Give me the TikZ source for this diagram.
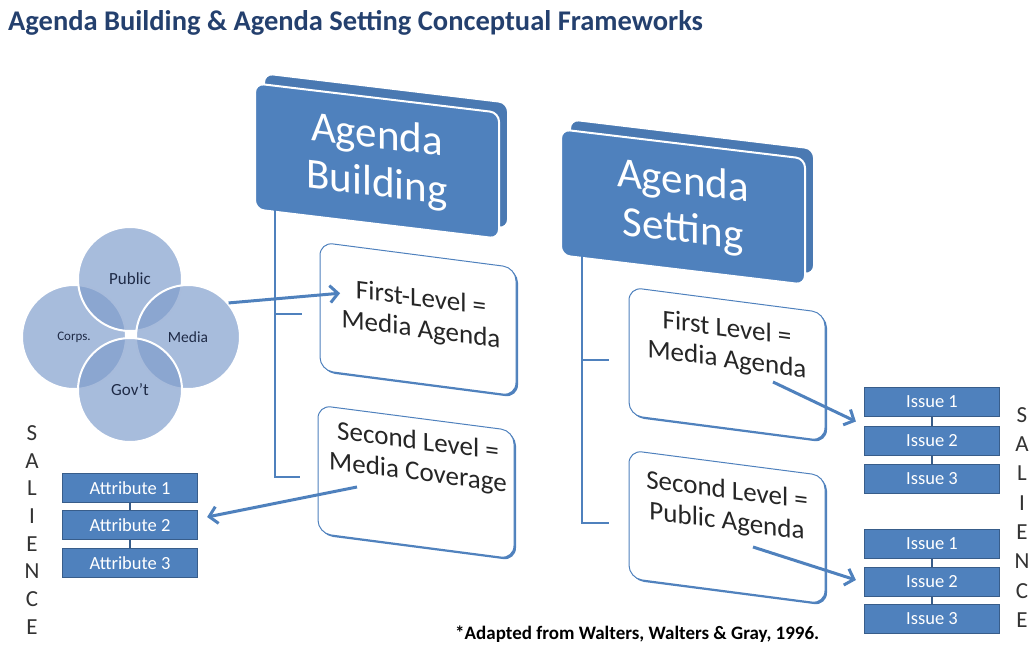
\documentclass[tikz,border=0pt]{standalone}
\usepackage{fontspec}
\setmainfont{Carlito}
\usetikzlibrary{calc,arrows.meta}

\definecolor{officeblue}{RGB}{79,129,189}
\definecolor{boxedge}{RGB}{56,93,138}
\definecolor{titleblue}{RGB}{36,64,110}
\definecolor{venncol}{RGB}{126,156,203}
\definecolor{venntext}{RGB}{30,42,70}

\begin{document}
\begin{tikzpicture}[
    x=1pt, y=-1pt,
    header/.style={draw=white, line width=2pt, fill=officeblue, rounded corners=9pt, minimum width=244pt, minimum height=126pt, yslant=-0.12, text=white, align=center, font=\fontsize{43}{48}\selectfont},
    headerdepth/.style={header, fill=officeblue!94!black},
    levelbox/.style={draw=officeblue, line width=1pt, fill=white, rounded corners=13pt, minimum width=196pt, minimum height=128pt, yslant=-0.13},
    levelshade/.style={levelbox, draw=none, fill=officeblue},
    leveltext/.style={yslant=-0.13, align=center, text=black!85, font=\fontsize{27}{31}\selectfont},
    itembox/.style={draw=boxedge, line width=1.2pt, fill=officeblue, minimum width=135pt, minimum height=29pt, inner sep=0pt, text=white, font=\fontsize{18.5}{18.5}\selectfont},
    venn/.style={circle, minimum size=104pt, inner sep=0pt, fill=venncol, fill opacity=0.68, text opacity=1, draw=white, line width=2pt, text=venntext, font=\fontsize{17}{17}\selectfont},
    bracket/.style={draw=officeblue, line width=1.8pt},
    link/.style={draw=boxedge, line width=2pt},
    arr/.style={draw=officeblue, line width=3pt, -{Straight Barb[length=8pt, width=17pt]}},
    letter/.style={text=black!80, font=\fontsize{23}{23}\selectfont}
]
\useasboundingbox (0,0) rectangle (1034,646);

\node[anchor=west, inner sep=0pt, text=titleblue, font=\bfseries\fontsize{28.5}{28.5}\selectfont] (title) at (8,23)
    {Agenda Building \& Agenda Setting Conceptual Frameworks};

% headers with their depth faces
\node[headerdepth] at (386,151) {};
\node[header] (build) at (377,161) {Agenda\\Building};
\node[headerdepth] at (692,197) {};
\node[header] (set) at (683,207) {Agenda\\Setting};

% level boxes
\node[levelshade] at (420,321) {};
\node[levelbox] (lb1) at (418,319) {};
\node[leveltext] (lb1t) at (421,315) {First-Level =\\Media Agenda};
\node[levelshade] at (418,484) {};
\node[levelbox] (lb2) at (416,482) {};
\node[leveltext] (lb2t) at (418,458) {Second Level =\\Media Coverage};
\node[levelshade] at (729,366) {};
\node[levelbox] (lr1) at (727,364) {};
\node[leveltext] (lr1t) at (727,345) {First Level =\\Media Agenda};
\node[levelshade] at (729,529) {};
\node[levelbox] (lr2) at (727,527) {};
\node[leveltext] (lr2t) at (727,507) {Second Level =\\Public Agenda};

% brackets
\coordinate (bl) at ($(build.south west)+(21,0)$);
\draw[bracket] (bl) |- ($(lb2.west)+(-18,8)$);
\draw[bracket] ($(bl |- lb1.west)+(0,8)$) -- ($(lb1.west)+(-18,8)$);
\coordinate (br) at ($(set.south west)+(22,0)$);
\draw[bracket] (br) |- ($(lr2.west)+(-20,9)$);
\draw[bracket] ($(br |- lr1.west)+(0,9)$) -- ($(lr1.west)+(-20,9)$);

% sources
\node[venn] (corps) at (74,337) {\fontsize{13}{13}\selectfont Corps.};
\node[venn] (public) at (130,279) {Public};
\node[venn] (media) at (188,337) {\fontsize{15.5}{15.5}\selectfont Media};
\node[venn] (gov) at (130,390) {Gov’t};

% attributes and issues
\node[itembox] (at1) at (130,488) {Attribute 1};
\node[itembox] (at2) at (130,525) {Attribute 2};
\node[itembox] (at3) at (130,563) {Attribute 3};
\draw[link] (at1) -- (at2);
\draw[link] (at2) -- (at3);

\node[itembox] (ia1) at (932,402) {Issue 1};
\node[itembox] (ia2) at (932,441) {Issue 2};
\node[itembox] (ia3) at (932,479) {Issue 3};
\draw[link] (ia1) -- (ia2);
\draw[link] (ia2) -- (ia3);

\node[itembox] (ib1) at (932,544) {Issue 1};
\node[itembox] (ib2) at (932,582) {Issue 2};
\node[itembox] (ib3) at (932,619) {Issue 3};
\draw[link] (ib1) -- (ib2);
\draw[link] (ib2) -- (ib3);

\foreach \ch [count=\i] in {S,A,L,I,E,N,C,E} {
    \node[letter] (sl\i) at (32,{433+27.7*(\i-1)}) {\ch};
    \node[letter] (sr\i) at (1022,{415+29.3*(\i-1)}) {\ch};
}

% arrows
\draw[arr] (media.40) -- ($(lb1t.west)+(2,-11)$);
\draw[arr] ($(lb2.center)+(-59,5)$) -- ($(at2.east)+(9,-8)$);
\draw[arr] ($(lr1.center)+(46,18)$) -- ($(ia1.south west)!0.5!(ia2.north west)+(-8,0)$);
\draw[arr] ($(lr2.center)+(26,20)$) -- ($(ib2.west)+(-8,-2)$);

\node[anchor=west, inner sep=0pt, font=\bfseries\fontsize{19}{19}\selectfont] (cite) at (455,634)
    {*Adapted from Walters, Walters \& Gray, 1996.};
\end{tikzpicture}
\end{document}
